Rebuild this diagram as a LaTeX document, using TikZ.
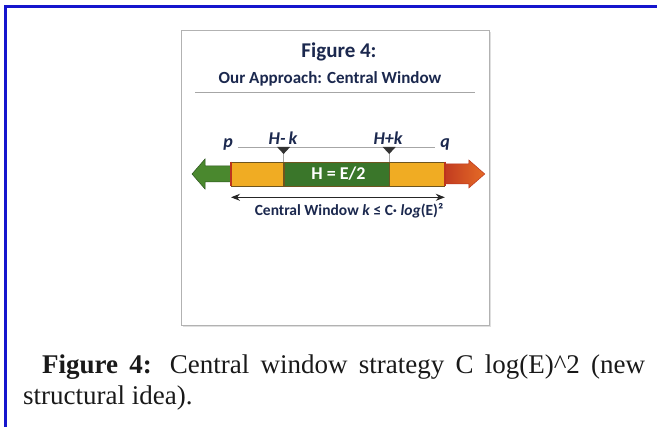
\documentclass[tikz,border=0pt]{standalone}
\usepackage{fontspec}
\setmainfont{Liberation Serif}
\newfontfamily\figfont{Carlito}
\usepackage{xcolor}
\usetikzlibrary{positioning, arrows.meta, calc}
\definecolor{navy}{RGB}{27,40,78}
\definecolor{frameblue}{RGB}{22,22,205}
\definecolor{amber}{RGB}{240,172,35}
\definecolor{leaf}{RGB}{58,118,42}
\definecolor{leafarrow}{RGB}{74,136,46}
\definecolor{rust}{RGB}{225,104,45}
\definecolor{capred}{RGB}{188,52,30}
\definecolor{segline}{RGB}{110,85,30}

\begin{document}
\begin{tikzpicture}[x=1pt, y=-1pt,
  >={Stealth[length=9pt, width=7pt]},
  font=\figfont,
  panel/.style={draw=gray!60, fill=white, line width=0.9pt, minimum width=308pt,
                minimum height=295pt, inner sep=0pt},
  ttl/.style={text=navy, font=\figfont\bfseries\fontsize{21}{24}\selectfont},
  subttl/.style={text=navy, font=\figfont\bfseries\fontsize{17}{20}\selectfont},
  lbl/.style={text=navy, inner sep=1pt, font=\figfont\bfseries\itshape\fontsize{18}{20}\selectfont},
  seg/.style={draw=segline, line width=0.6pt, minimum height=24pt, inner sep=0pt},
  wtext/.style={text=navy, font=\figfont\bfseries\fontsize{15.5}{18}\selectfont},
  capt/.style={inner sep=0pt, anchor=base west, text=black!90,
               font=\rmfamily\fontsize{27}{31}\selectfont},
  guide/.style={gray!70, line width=0.6pt},
  marker/.style={fill=black!80}
]
\useasboundingbox (0,0) rectangle (657,427);
\draw[frameblue, line width=2.6pt] (5.5,430) -- (5.5,6.5) -- (660,6.5);
\fill[gray!25] (183,32) rectangle (491,327);
\node[panel] (pan) at (335,177.5) {};
\node[ttl] (fig) at (339,52) {Figure 4:};
\node[subttl] (sub) at (330,79) {Our Approach: Central Window};
\draw[guide] (195,92) -- (475,92);
\node[seg, fill=amber, minimum width=52pt, anchor=west] (segL) at (231,174) {};
\node[seg, fill=leaf, minimum width=105pt, right=0pt of segL] (segM)
     {\textcolor{white}{\bfseries\fontsize{18}{20}\selectfont\ H = E/2}};
\node[seg, fill=amber, minimum width=55pt, right=0pt of segM] (segR) {};
\fill[leafarrow, draw=leaf!70!black, line width=0.5pt] (segL.west) ++(0,-8) -- ++(-26,0) -- ++(0,-7)
     -- ++(-13,15) -- ++(13,15) -- ++(0,-7) -- ++(26,0) -- cycle;
\shade[left color=capred!85!rust, right color=rust!85!orange, draw=capred, line width=0.5pt]
     (segR.east) ++(0,-10) -- ++(24,0) -- ++(0,-4)
     -- ++(16,14) -- ++(-16,14) -- ++(0,-4) -- ++(-24,0) -- cycle;
\draw[capred, line width=2.4pt] (segL.north west) -- (segL.south west);
\draw[capred, line width=2.4pt] (segR.north east) -- (segR.south east);
\coordinate (mkl) at (segM.north west |- 0,147);
\coordinate (mkr) at (segM.north east |- 0,147);
\node[lbl] (p) at (228,144) {p};
\node[lbl] (q) at (445,144) {q};
\node[lbl] (hkl) at (283,138) {H-\,k};
\node[lbl] (hkr) at (388,138) {H+k};
\draw[guide] (p.east |- mkl) ++(4,0) -- ($(q.west |- mkr)+(-4,0)$);
\draw[guide] (mkl) -- (segM.north west);
\draw[guide] (mkr) -- (segM.north east);
\fill[marker] (mkl) ++(-6.5,0) -- ++(13,0) -- ++(-6.5,7) -- cycle;
\fill[marker] (mkr) ++(-6.5,0) -- ++(13,0) -- ++(-6.5,7) -- cycle;
\coordinate (wl) at ($(segL.south west)+(0,11)$);
\coordinate (wr) at ($(segR.south east)+(0,11)$);
\draw[<->, black!85, line width=1pt] (wl) -- (wr);
\node[wtext] (win) at (349,211) {Central Window \textit{k} ≤ C· \textit{log}(E)²};
\node[capt] (cap1) at (42,374)
     {\makebox[603pt][s]{\textbf{Figure 4:} Central window strategy C log(E)\textasciicircum 2 (new}};
\node[capt] (cap2) at (23,405) {structural idea).};
\end{tikzpicture}
\end{document}
